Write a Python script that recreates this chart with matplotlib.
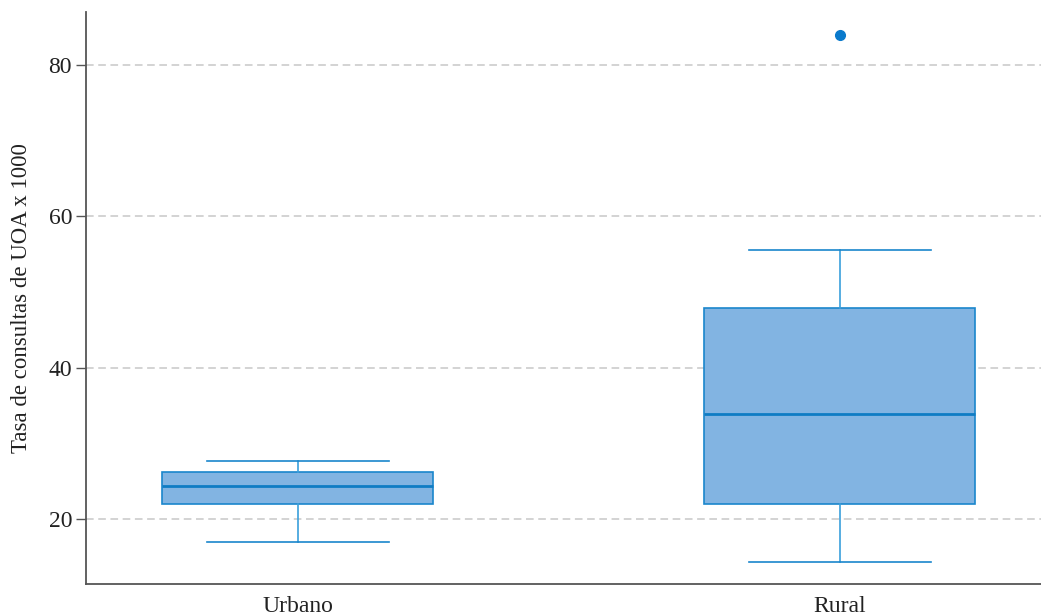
import matplotlib
matplotlib.use("Agg")
import matplotlib.pyplot as plt

categories = ["Urbano", "Rural"]
# box statistics
whislo = [17.0, 14.3]
q1 = [22.0, 22.0]
med = [24.4, 33.9]
q3 = [26.2, 47.9]
whishi = [27.7, 55.6]
fliers = [[], [84.0]]
yticks = [20, 40, 60, 80]
ylabel = "Tasa de consultas de UOA x 1000"

plt.rcParams['font.family'] = ['Liberation Serif', 'DejaVu Serif']

fig = plt.figure(figsize=(10.41, 6.14), dpi=100)
ax = fig.add_axes([86/1041, 30/614, 1 - 86/1041, (584-12)/614])

stats = []
for i, c in enumerate(categories):
    stats.append(dict(label=c, whislo=whislo[i], q1=q1[i], med=med[i],
                      q3=q3[i], whishi=whishi[i], fliers=fliers[i]))

edge = '#1a86cc'
ax.bxp(stats, positions=[0, 1], widths=0.5, capwidths=0.336, patch_artist=True,
       boxprops=dict(facecolor='#82b4e2', edgecolor=edge, linewidth=1.2),
       medianprops=dict(color='#0f7cc4', linewidth=2.0),
       whiskerprops=dict(color='#3aa0dc', linewidth=1.2),
       capprops=dict(color='#1a86cc', linewidth=1.2),
       flierprops=dict(marker='o', markerfacecolor='#0a7acc', markeredgecolor='#0a7acc',
                       markersize=7))

ax.set_xlim(-0.391, 1.371)
ax.set_ylim(11.4, 87.0)
ax.set_yticks(yticks)
ax.yaxis.grid(True, linestyle=(0, (5, 3)), color='#c8c8c8', linewidth=1.1)
ax.set_axisbelow(True)
for s in ['top', 'right']:
    ax.spines[s].set_visible(False)
for s in ['left', 'bottom']:
    ax.spines[s].set_color('#555555')
    ax.spines[s].set_linewidth(1.3)
ax.tick_params(axis='y', length=7, width=1.0, color='#555555', labelsize=17,
               labelcolor='#222222', pad=3)
ax.tick_params(axis='x', length=0, labelsize=17, labelcolor='#222222', pad=9)
ax.set_ylabel(ylabel, fontsize=16.5, color='#222222', labelpad=12)

fig.savefig("out.png", dpi=100)
